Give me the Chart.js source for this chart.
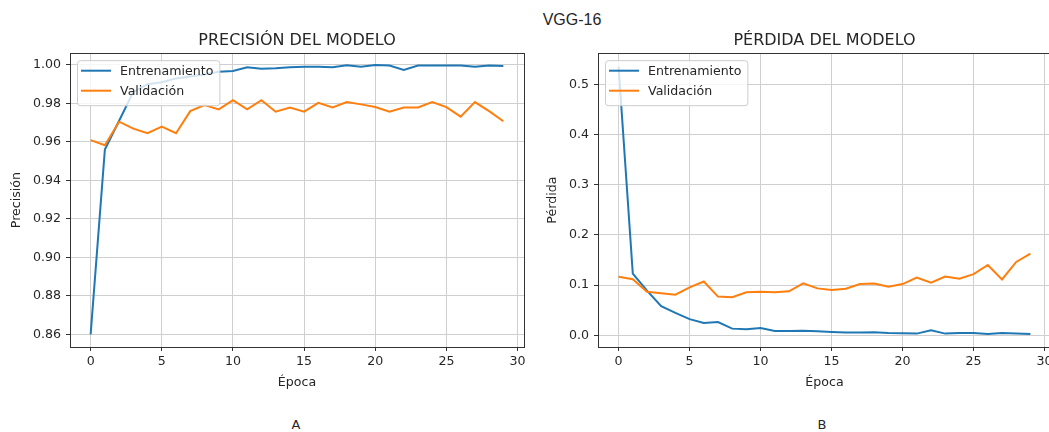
<!DOCTYPE html>
<html>
<head>
<meta charset="utf-8">
<script src="https://cdn.jsdelivr.net/npm/chart.js@4.4.0/dist/chart.umd.min.js"></script>
<style>
  body { margin: 0; background: #fff; width: 1049px; height: 432px; overflow: hidden; position: relative; }
  canvas { position: absolute; top: 0; }
  .txt { position: absolute; transform: translate(-50%, -50%); color: #262626; white-space: nowrap; }
</style>
</head>
<body>
<div class="txt" style="left:572px; top:20px; font: 16px 'Liberation Sans', Arial, sans-serif;">VGG-16</div>
<canvas id="accChart" width="540" height="400" style="left:0px"></canvas>
<canvas id="lossChart" width="520" height="400" style="left:540px"></canvas>
<div class="txt" style="left:296px; top:424px; font: 13px 'DejaVu Sans', sans-serif;">A</div>
<div class="txt" style="left:822px; top:424px; font: 13px 'DejaVu Sans', sans-serif;">B</div>

<script>
var epochs = [0, 1, 2, 3, 4, 5, 6, 7, 8, 9, 10, 11, 12, 13, 14, 15, 16, 17, 18, 19, 20, 21, 22, 23, 24, 25, 26, 27, 28, 29];

var accTrain = [0.860, 0.956, 0.971, 0.986, 0.990, 0.991, 0.993, 0.994, 0.995, 0.9965, 0.9969, 0.9988, 0.998, 0.9983, 0.9988, 0.999, 0.999, 0.9988, 0.9998, 0.999,
                1.000, 0.9997, 0.9974, 0.9997, 0.9997, 0.9997, 0.9997, 0.999, 0.9997, 0.9995];
var accVal = [0.9609, 0.9583, 0.9705, 0.9669, 0.9645, 0.968, 0.9645, 0.976, 0.9791, 0.9769, 0.9817, 0.9769, 0.9817, 0.9757, 0.9778, 0.9757, 0.9803, 0.9779, 0.9807, 0.9795,
              0.9781, 0.9757, 0.9779, 0.9779, 0.9807, 0.9781, 0.9731, 0.9807, 0.976, 0.9707];

var lossTrain = [0.535, 0.123, 0.0888, 0.0579, 0.0447, 0.0322, 0.0243, 0.0263, 0.0132, 0.0118, 0.0145, 0.0086, 0.0086, 0.0092, 0.0079, 0.0066, 0.0053, 0.0053, 0.006, 0.0046,
                 0.004, 0.0033, 0.0099, 0.0033, 0.0046, 0.0046, 0.0026, 0.0046, 0.0033, 0.0026];
var lossVal = [0.1164, 0.1118, 0.0868, 0.0836, 0.0809, 0.0954, 0.1072, 0.077, 0.0757, 0.0855, 0.0868, 0.0855, 0.0875, 0.1033, 0.0934, 0.0901, 0.0928, 0.102, 0.1033, 0.0967,
               0.102, 0.1151, 0.1046, 0.1171, 0.1125, 0.1217, 0.1401, 0.1112, 0.146, 0.1625];

var seriesNames = ['Entrenamiento', 'Validación'];
var xTicks = [0, 5, 10, 15, 20, 25, 30];

var BLUE = '#1f77b4';
var ORANGE = '#ff7f0e';
var FONT = "'DejaVu Sans', sans-serif";
var TEXT = '#262626';

Chart.defaults.font.family = FONT;
Chart.defaults.color = TEXT;

function pts(ys) {
    return epochs.map(function (e, i) { return { x: e, y: ys[i] }; });
}

// axes frame + matplotlib style legend box inside the plot
var framePlugin = {
    id: 'frameLegend',
    afterDatasetsDraw: function (chart) {
        var ctx = chart.ctx, a = chart.chartArea;
        ctx.save();
        ctx.strokeStyle = '#333';
        ctx.lineWidth = 1;
        ctx.strokeRect(Math.round(a.left) + 0.5, Math.round(a.top) + 0.5,
                       Math.round(a.right - a.left), Math.round(a.bottom - a.top));

        ctx.font = '12.6px ' + FONT;
        var ds = chart.data.datasets;
        var tw = 0;
        ds.forEach(function (d) { tw = Math.max(tw, ctx.measureText(d.label).width); });
        var bx = a.left + 7, by = a.top + 7, bw = 4 + 30 + 9 + tw + 6, bh = 45;
        ctx.beginPath();
        ctx.roundRect(bx + 0.5, by + 0.5, bw, bh, 3);
        ctx.fillStyle = 'rgba(255,255,255,0.8)';
        ctx.fill();
        ctx.strokeStyle = '#cccccc';
        ctx.stroke();
        ds.forEach(function (d, i) {
            var ly = by + 10.5 + i * 20;
            ctx.beginPath();
            ctx.moveTo(bx + 4, ly);
            ctx.lineTo(bx + 34, ly);
            ctx.strokeStyle = d.borderColor;
            ctx.lineWidth = 2;
            ctx.stroke();
            ctx.fillStyle = TEXT;
            ctx.textBaseline = 'middle';
            ctx.textAlign = 'left';
            ctx.fillText(d.label, bx + 43, ly + 1);
        });
        ctx.restore();
    }
};

function makeChart(id, title, yTitle, train, val, yMin, yMax, yStep, yDec, yWidth, yTitlePad, padRight) {
    return new Chart(document.getElementById(id), {
        type: 'line',
        data: {
            datasets: [
                { label: seriesNames[0], data: pts(train), borderColor: BLUE, backgroundColor: BLUE, borderWidth: 2, pointRadius: 0, tension: 0, order: 1 },
                { label: seriesNames[1], data: pts(val), borderColor: ORANGE, backgroundColor: ORANGE, borderWidth: 2, pointRadius: 0, tension: 0, order: 0 }
            ]
        },
        options: {
            responsive: false,
            animation: false,
            devicePixelRatio: 1,
            layout: { padding: { left: 0, right: padRight, top: 0, bottom: 5 } },
            plugins: {
                legend: { display: false },
                tooltip: { enabled: false },
                title: {
                    display: true,
                    fullSize: false,
                    text: title,
                    color: TEXT,
                    font: { size: 16, weight: 'normal', lineHeight: 1.2 },
                    padding: { top: 31, bottom: 3 }
                }
            },
            scales: {
                x: {
                    type: 'linear',
                    min: -1.45,
                    max: 30.45,
                    afterFit: function (s) { s.height = 48; },
                    afterBuildTicks: function (s) { s.ticks = xTicks.map(function (v) { return { value: v }; }); },
                    ticks: { font: { size: 12.6 }, color: TEXT, padding: 3, maxRotation: 0,
                             callback: function (v) { return String(v); } },
                    grid: { color: '#cfcfcf', lineWidth: 1, tickLength: 4, tickColor: '#333' },
                    border: { display: false },
                    title: { display: true, text: 'Época', color: TEXT, font: { size: 12.6 }, padding: { top: 0, bottom: 4.5 } }
                },
                y: {
                    min: yMin,
                    max: yMax,
                    afterFit: function (s) { s.width = yWidth; },
                    ticks: { stepSize: yStep, includeBounds: false, font: { size: 12.6 }, color: TEXT, padding: 5,
                             callback: function (v) { return Number(v).toFixed(yDec); } },
                    grid: { color: '#cfcfcf', lineWidth: 1, tickLength: 4, tickColor: '#333' },
                    border: { display: false },
                    title: { display: true, text: yTitle, color: TEXT, font: { size: 12.6 }, padding: { top: yTitlePad, bottom: 0 } }
                }
            }
        },
        plugins: [framePlugin]
    });
}

makeChart('accChart', 'PRECISIÓN DEL MODELO', 'Precisión', accTrain, accVal, 0.8534, 1.0061, 0.02, 2, 70, 9.5, 16);
makeChart('lossChart', 'PÉRDIDA DEL MODELO', 'Pérdida', lossTrain, lossVal, -0.0234, 0.562, 0.1, 1, 58, 5.5, 9);
</script>
</body>
</html>
